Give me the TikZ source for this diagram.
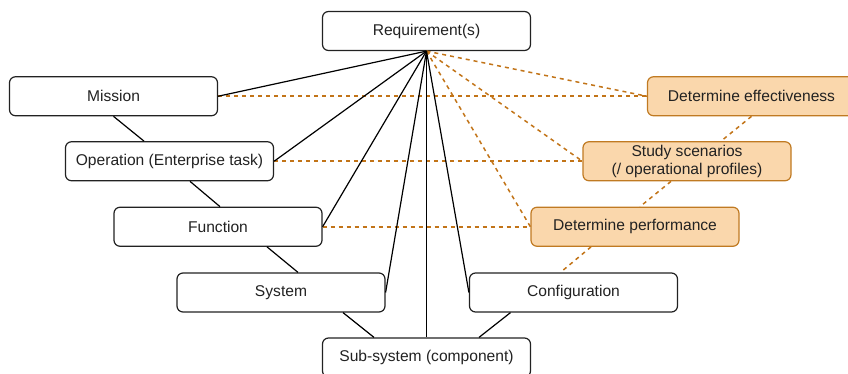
\documentclass[tikz,border=0pt]{standalone}
\usepackage{fontspec}
\setmainfont{Liberation Sans}
\definecolor{taskfill}{HTML}{FAD7AC}
\definecolor{taskline}{HTML}{C07A22}
\definecolor{tasklink}{HTML}{C27418}
\definecolor{ink}{HTML}{222222}
\tikzset{
  level/.style={draw=ink, line width=1.2pt, rounded corners=6pt, fill=white,
    minimum width=208pt, minimum height=39pt, inner sep=0pt,
    font=\fontsize{15.6}{18.5}\selectfont, text=ink, align=center},
  task/.style={level, draw=taskline, fill=taskfill},
  link/.style={draw=black, line width=1.2pt},
  trace/.style={draw=tasklink, line width=1.5pt, dash pattern=on 4pt off 4pt}
}
\begin{document}
\begin{tikzpicture}[x=1pt, y=-1pt]
\useasboundingbox (0,0) rectangle (848,374);
\clip (0,0) rectangle (848,374);

% hierarchy of levels
\node[level] (req)    at (426.5,31)     {Requirement(s)};
\node[level] (miss)   at (113.5,96.25)  {Mission};
\node[level] (oper)   at (169.5,161.25) {Operation (Enterprise task)};
\node[level] (func)   at (218,226.75)   {Function};
\node[level] (sys)    at (281,292.5)    {System};
\node[level] (conf)   at (573.5,292.5)  {Configuration};
\node[level] (sub)    at (426.5,357.5)  {Sub-system (component)};

% analysis tasks
\node[task] (eff)   at (751.5,96.25)  {Determine effectiveness};
\node[task] (scen)  at (687,161.25)   {Study scenarios\\(/ operational profiles)};
\node[task] (perf)  at (635,226.75)   {Determine performance};

% dashed traces
\draw[trace] (req.south) -- (eff.west);
\draw[trace] (req.south) -- (scen.west);
\draw[trace] (req.south) -- (perf.west);
\draw[trace] (miss.east) -- (eff.west);
\draw[trace] (oper.east) -- (scen.west);
\draw[trace] (func.east) -- (perf.west);
\draw[trace] (eff.south) -- ([xshift=34pt]scen.north);
\draw[trace] ([xshift=-16pt]scen.south) -- ([xshift=5pt]perf.north);
\draw[trace] ([xshift=-44pt]perf.south) -- ([xshift=-13pt]conf.north);

% requirement links
\draw[link] (req.south) -- (miss.east);
\draw[link] (req.south) -- (oper.east);
\draw[link] (req.south) -- (func.east);
\draw[link] (req.south) -- (sys.east);
\draw[link] (req.south) -- (sub.north);
\draw[link] (req.south) -- (conf.west);

% decomposition chain
\draw[link] (miss.south) -- ([xshift=-25.5pt]oper.north);
\draw[link] ([xshift=20.5pt]oper.south) -- ([xshift=2pt]func.north);
\draw[link] ([xshift=49pt]func.south) -- ([xshift=17pt]sys.north);
\draw[link] ([xshift=62pt]sys.south) -- ([xshift=-52.5pt]sub.north);
\draw[link] ([xshift=-63pt]conf.south) -- ([xshift=52.5pt]sub.north);
\end{tikzpicture}
\end{document}
